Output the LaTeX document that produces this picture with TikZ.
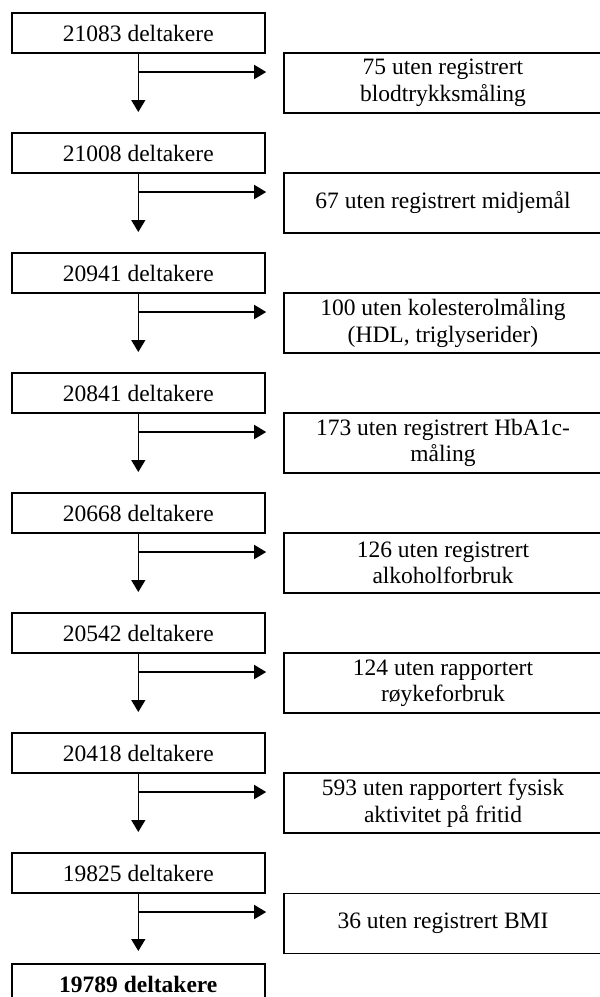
\documentclass[tikz,border=0pt]{standalone}
\usepackage{fontspec}
\setmainfont{Liberation Serif}
\usetikzlibrary{arrows.meta}
\tikzset{
  lbox/.style={draw, line width=1.6pt, minimum width=253pt, minimum height=40pt, inner sep=0pt, font=\fontsize{23.5}{27}\selectfont},
  rbox/.style={draw, line width=1.6pt, minimum width=318pt, minimum height=60pt, inner sep=0pt, align=center, font=\fontsize{23.5}{26.5}\selectfont},
  arr/.style={line width=1.5pt, -{Triangle[length=12pt,width=14pt]}}
}
\begin{document}
\begin{tikzpicture}[x=1pt,y=-1pt]
\useasboundingbox (0,0) rectangle (600,997);
\clip (0,0) rectangle (600,997);
% left boxes
\node[lbox] (a1) at (138.3,33) {21083 deltakere};
\node[lbox] (a2) at (138.3,153) {21008 deltakere};
\node[lbox] (a3) at (138.3,273) {20941 deltakere};
\node[lbox] (a4) at (138.3,393) {20841 deltakere};
\node[lbox] (a5) at (138.3,513) {20668 deltakere};
\node[lbox] (a6) at (138.3,633) {20542 deltakere};
\node[lbox] (a7) at (138.3,753) {20418 deltakere};
\node[lbox] (a8) at (138.3,873) {19825 deltakere};
\node[lbox] (a9) at (138.3,984) {\bfseries 19789 deltakere};
% right boxes
\node[rbox] (b1) at (443,83) {75 uten registrert\\blodtrykksmåling};
\node[rbox] (b2) at (443,203) {67 uten registrert midjemål};
\node[rbox] (b3) at (443,323) {100 uten kolesterolmåling\\(HDL, triglyserider)};
\node[rbox] (b4) at (443,443) {173 uten registrert HbA1c-\\måling};
\node[rbox] (b5) at (443,563) {126 uten registrert\\alkoholforbruk};
\node[rbox] (b6) at (443,683) {124 uten rapportert\\røykeforbruk};
\node[rbox] (b7) at (443,803) {593 uten rapportert fysisk\\aktivitet på fritid};
\node[rbox] (b8) at (443,923.5) {36 uten registrert BMI};
% junctions and arrow ends
\foreach \k/\yj/\yt in {1/72/112,2/192/232,3/312/352,4/432/472,5/552/592,6/672/712,7/792/832,8/912/951}{
  \coordinate (j\k) at (138.3,\yj);
  \coordinate (t\k) at (138.3,\yt);
  \draw[arr] (a\k.south) -- (t\k);
  \draw[arr, shorten >=17pt] (j\k) -- (j\k -| b\k.west);
}
\end{tikzpicture}
\end{document}
